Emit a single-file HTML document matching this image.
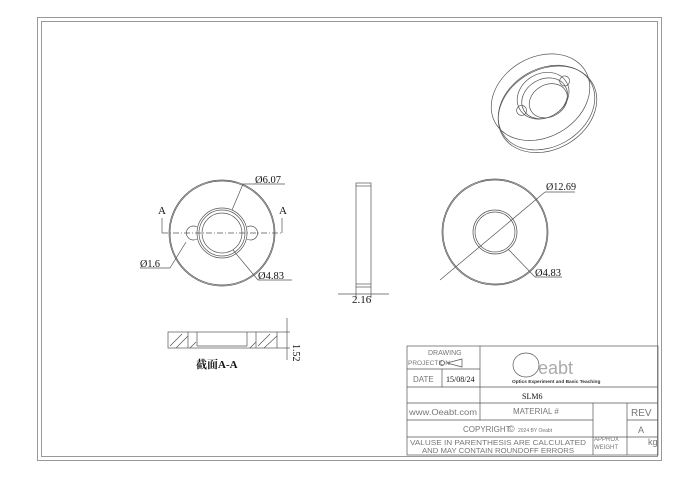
<!DOCTYPE html>
<html><head><style>body{margin:0;background:#fff}svg{display:block}</style></head><body>
<svg width="700" height="478" viewBox="0 0 700 478" xmlns="http://www.w3.org/2000/svg" font-family="Liberation Sans, sans-serif">
<g fill="none" stroke="#999" stroke-width="1">
<rect x="37.5" y="17.5" width="624" height="443"/>
<rect x="41.5" y="21.5" width="616" height="435"/>
</g>
<g fill="none" stroke="#555" stroke-width="0.7">
<!-- front view -->
<circle cx="222" cy="233" r="53"/><circle cx="222" cy="233" r="52"/>
<circle cx="222" cy="233" r="25"/><circle cx="222" cy="233" r="23"/><circle cx="222" cy="233" r="20"/>
<path d="M197,227 A7,7 0 1 0 197,239"/><path d="M247,227 A7,7 0 1 1 247,239"/>
<line x1="162" y1="233" x2="282" y2="233" stroke-dasharray="6 2 1 2"/>
<line x1="162" y1="218" x2="162" y2="233"/><line x1="282" y1="218" x2="282" y2="233"/>
<line x1="243" y1="184" x2="232" y2="210"/><line x1="243" y1="184" x2="285" y2="184"/>
<line x1="233" y1="250" x2="258" y2="280"/><line x1="258" y1="280" x2="292" y2="280"/>
<line x1="186" y1="242" x2="170" y2="268"/><line x1="170" y1="268" x2="140" y2="268"/>
<!-- side view -->
<rect x="356" y="183" width="15" height="104"/>
<line x1="356" y1="186" x2="371" y2="186"/><line x1="356" y1="284" x2="371" y2="284"/>
<line x1="356" y1="287" x2="356" y2="298"/><line x1="371" y1="287" x2="371" y2="298"/>
<line x1="338" y1="294" x2="389" y2="294"/>
<!-- section -->
<rect x="168" y="332" width="109" height="16"/>
<line x1="188" y1="332" x2="188" y2="348"/><line x1="256" y1="332" x2="256" y2="348"/>
<line x1="197" y1="332" x2="197" y2="346"/><line x1="247" y1="332" x2="247" y2="346"/>
<line x1="197" y1="346" x2="247" y2="346"/>
<line x1="170" y1="346" x2="182" y2="334"/><line x1="176" y1="348" x2="188" y2="336"/><line x1="258" y1="346" x2="270" y2="334"/><line x1="264" y1="348" x2="277" y2="336"/><line x1="190" y1="348" x2="196" y2="342"/><line x1="250" y1="348" x2="256" y2="342"/>
<line x1="287" y1="318" x2="287" y2="360"/><line x1="277" y1="332" x2="290" y2="332"/><line x1="277" y1="348" x2="290" y2="348"/>
<!-- right view -->
<circle cx="495" cy="232" r="53"/><circle cx="495" cy="232" r="52"/>
<circle cx="495" cy="232" r="22"/><circle cx="495" cy="232" r="20"/>
<line x1="440" y1="280" x2="545" y2="192"/><line x1="545" y1="192" x2="575" y2="192"/>
<line x1="508" y1="249" x2="535" y2="277"/><line x1="535" y1="277" x2="562" y2="277"/>
<!-- iso -->
<g transform="rotate(-30 545 105)">
<ellipse cx="545" cy="96" rx="52" ry="40"/><ellipse cx="545" cy="110" rx="52" ry="40"/>
<ellipse cx="545" cy="108" rx="51" ry="39"/>
<ellipse cx="548" cy="96" rx="27" ry="22"/><ellipse cx="548" cy="99" rx="24" ry="19"/><ellipse cx="550" cy="103" rx="20" ry="16"/>
<circle cx="522" cy="98" r="5"/><circle cx="574" cy="94" r="5"/>
</g>
<!-- title block -->
<rect x="407" y="346" width="251" height="109"/>
<line x1="407" y1="369" x2="480" y2="369"/><line x1="407" y1="387" x2="658" y2="387"/>
<line x1="407" y1="403" x2="658" y2="403"/><line x1="407" y1="420" x2="593" y2="420"/><line x1="627" y1="420" x2="658" y2="420"/>
<line x1="407" y1="437" x2="658" y2="437"/>
<line x1="442" y1="369" x2="442" y2="387"/><line x1="480" y1="346" x2="480" y2="420"/>
<line x1="593" y1="403" x2="593" y2="455"/><line x1="627" y1="403" x2="627" y2="455"/>
<circle cx="442" cy="363" r="2.5"/><polygon points="447,363 462,359 462,367"/>
<ellipse cx="526" cy="365" rx="13" ry="12"/>
</g>
<g fill="#111" font-family="Liberation Serif, 'Noto Serif CJK SC', serif" font-size="11">
<text x="158" y="214">A</text><text x="279" y="214">A</text>
<text x="255" y="183" textLength="26" lengthAdjust="spacingAndGlyphs">Ø6.07</text><text x="258" y="279" textLength="26" lengthAdjust="spacingAndGlyphs">Ø4.83</text><text x="140" y="267" textLength="20" lengthAdjust="spacingAndGlyphs">Ø1.6</text>
<text x="352" y="303">2.16</text>
<text x="546" y="190" textLength="30" lengthAdjust="spacingAndGlyphs">Ø12.69</text><text x="535" y="276" textLength="26" lengthAdjust="spacingAndGlyphs">Ø4.83</text>
<text x="196" y="368" font-weight="bold">截面A-A</text>
<text x="297" y="340" transform="rotate(90 293 340)" font-size="10">1.52</text>
<text x="522" y="399" font-size="8">SLM6</text>
<text x="446" y="382" font-size="8">15/08/24</text>
</g>
<g fill="#777" font-size="7" font-family="Liberation Sans, sans-serif">
<text x="428" y="355">DRAWING</text><text x="408" y="365" font-size="6.5">PROJECTION</text>
<text x="413" y="382" font-size="8">DATE</text>
<text x="409" y="415" font-size="8" textLength="68" lengthAdjust="spacingAndGlyphs">www.Oeabt.com</text>
<text x="513" y="414" font-size="8">MATERIAL  #</text>
<text x="631" y="416" font-size="10">REV</text>
<text x="463" y="432" font-size="8">COPYRIGHT</text><text x="508" y="432" font-size="9">©</text><text x="518" y="432" font-size="5">2024 BY Oeabt</text>
<text x="638" y="433" font-size="9">A</text>
<text x="410" y="445" textLength="176" lengthAdjust="spacingAndGlyphs">VALUSE IN PARENTHESIS ARE CALCULATED</text>
<text x="422" y="453" textLength="152" lengthAdjust="spacingAndGlyphs">AND MAY CONTAIN ROUNDOFF ERRORS</text>
<text x="594" y="441" font-size="6">APPROX</text><text x="594" y="449" font-size="6">WEIGHT</text>
<text x="648" y="445" font-size="9">kg</text>
<text x="538" y="374" font-size="18" fill="#aaa">eabt</text>
<text x="512" y="383" font-size="4.8" fill="#333" font-weight="bold">Optics Experiment and Basic Teaching</text>
</g>
</svg>
</body></html>
